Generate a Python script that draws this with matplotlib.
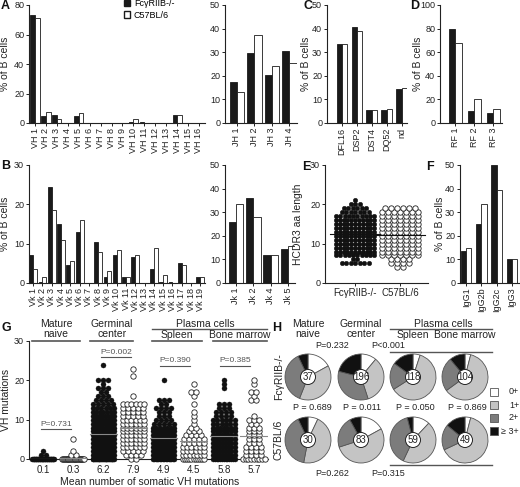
import numpy as np
import matplotlib
matplotlib.use('Agg')
import matplotlib.pyplot as plt
from matplotlib.lines import Line2D
from matplotlib.patches import Patch, Circle, Rectangle

plt.rcParams['font.family'] = ['Liberation Sans', 'DejaVu Sans']
plt.rcParams['font.size'] = 7

# ---- data ----
ko_name = 'FcγRIIB-/-'
wt_name = 'C57BL/6'

vh_labels = ['VH %d' % i for i in range(1, 17)]
vh_ko = [73.5, 4.5, 5.5, 0, 4.5, 0.3, 0.3, 0, 0, 1, 0.5, 0, 0, 5.5, 0, 0]
vh_wt = [71, 7.5, 2.5, 0, 7, 0.3, 0.3, 0, 0, 2.5, 0, 0, 0, 5.5, 0, 0]

jh_labels = ['JH 1', 'JH 2', 'JH 3', 'JH 4']
jh_ko = [17.5, 29.5, 20.5, 30.5]
jh_wt = [13, 37.5, 24, 25.5]

d_labels = ['DFL16', 'DSP2', 'DST4', 'DQ52', 'nd']
d_ko = [33.5, 40.5, 5.5, 5.5, 14.5]
d_wt = [33.5, 39, 5.5, 6, 15]

rf_labels = ['RF 1', 'RF 2', 'RF 3']
rf_ko = [80, 10, 8.5]
rf_wt = [67.5, 20, 11.5]

vk_labels = ['Vk %d' % i for i in range(1, 20)]
vk_ko = [7, 0.3, 24.5, 15, 4.5, 13, 0, 10.5, 1.5, 7, 1.5, 6.5, 0, 3.5, 0.3, 0.3, 5, 0, 1.5]
vk_wt = [3.5, 1.5, 18.5, 11, 5.5, 16, 0, 8, 3, 8.5, 1.5, 7, 0, 9, 2, 0, 4.5, 0, 1.5]

jk_labels = ['Jk 1', 'Jk 2', 'Jk 4', 'Jk 5']
jk_ko = [26, 36, 12, 14.5]
jk_wt = [33.5, 28, 12, 15.5]

igg_labels = ['IgG1', 'IgG2b', 'IgG2c', 'IgG3']
igg_ko = [13.5, 25, 50, 10]
igg_wt = [15, 33.5, 39.5, 10]

# HCDR3 length: counts per length
e_len = list(range(4, 22))
e_ko_cnt = [0, 7, 2, 10, 11, 11, 11, 11, 11, 11, 11, 11, 11, 10, 7, 6, 3, 1]
e_wt_cnt = [2, 4, 4, 7, 7, 7, 7, 7, 7, 7, 7, 7, 7, 7, 7, 6, 0, 0]

# VH mutations: values and counts per group
g_tick_labels = ['0.1', '0.3', '6.2', '7.9', '4.9', '4.5', '5.8', '5.7']
naive_ko_v = [0, 1, 2]
naive_ko_c = [34, 2, 1]
naive_wt_v = [0, 1, 2, 5]
naive_wt_c = [26, 2, 1, 1]
gc_ko_v = [0, 1, 2, 3, 4, 5, 6, 7, 8, 9, 10, 11, 12, 13, 14, 15, 16, 17, 18, 19, 20, 24]
gc_ko_c = [26, 14, 14, 15, 15, 14, 13, 12, 11, 10, 9, 8, 7, 6, 5, 4, 3, 2, 3, 1, 3, 1]
gc_wt_v = [0, 1, 2, 3, 4, 5, 6, 7, 8, 9, 10, 11, 12, 13, 14, 16, 21, 23]
gc_wt_c = [2, 4, 5, 6, 6, 6, 6, 6, 6, 6, 6, 5, 5, 5, 6, 1, 1, 1]
sp_ko_v = [0, 1, 2, 3, 4, 5, 6, 7, 8, 9, 10, 11, 12, 13, 14, 15, 20]
sp_ko_c = [16, 12, 12, 9, 10, 10, 9, 8, 7, 5, 4, 3, 3, 4, 2, 3, 1]
sp_wt_v = [0, 1, 2, 3, 4, 5, 6, 7, 8, 9, 10, 11, 12, 14, 16, 17, 19]
sp_wt_c = [11, 7, 6, 6, 5, 5, 4, 3, 2, 1, 1, 1, 1, 1, 1, 2, 1]
bm_ko_v = [0, 1, 2, 3, 4, 5, 6, 7, 8, 9, 10, 11, 12, 13, 14, 18, 19, 20]
bm_ko_c = [13, 8, 8, 8, 8, 8, 8, 7, 7, 6, 6, 4, 4, 3, 3, 1, 1, 1]
bm_wt_v = [0, 1, 2, 3, 4, 5, 6, 7, 8, 9, 10, 11, 15, 16, 17, 19, 20]
bm_wt_c = [9, 4, 4, 4, 3, 3, 3, 3, 3, 2, 3, 1, 2, 1, 2, 1, 1]

# pies: % of 0+, 1+, 2+, >=3+
pie_labels = ['0+', '1+', '2+', '≥ 3+']
pie_n_ko = [37, 196, 118, 104]
pie_n_wt = [30, 83, 59, 49]
pie_ko = [[17, 39, 37, 7], [11, 34, 34, 21], [5, 61, 19, 15], [4, 61, 24, 11]]
pie_wt = [[7, 46, 40, 7], [17, 53, 22, 8], [12, 45, 39, 4], [4, 64, 18, 14]]

# ---- figure ----
W, H = 520, 487
fig = plt.figure(figsize=(5.2, 4.87), dpi=100)
INK = '#222222'
TICK = 6.5
LAB = 7.5


def box(l, t, r, b):
    return fig.add_axes([l / W, 1 - b / H, (r - l) / W, (b - t) / H])


def ftext(x, y, s, **kw):
    kw.setdefault('ha', 'center')
    kw.setdefault('va', 'center')
    kw.setdefault('color', INK)
    kw.setdefault('fontsize', LAB)
    fig.text(x / W, 1 - y / H, s, **kw)


def fline(x0, x1, y, color='#555555', lw=1.0):
    fig.add_artist(Line2D([x0 / W, x1 / W], [1 - y / H, 1 - y / H], color=color, lw=lw))


def style(ax, ymax, ystep):
    for s in ['top', 'right']:
        ax.spines[s].set_visible(False)
    for s in ['left', 'bottom']:
        ax.spines[s].set_linewidth(0.8)
        ax.spines[s].set_color(INK)
    ax.set_ylim(0, ymax)
    ax.set_yticks(np.arange(0, ymax + 1, ystep))
    ax.tick_params(length=2.5, width=0.7, pad=1, labelsize=TICK, colors=INK)


def bars(ax, labels, ko, wt, width, xlim, ymax, ystep):
    x = np.arange(len(labels))
    ax.bar(x - width / 2, ko, width, color='#1a1a1a', edgecolor='#1a1a1a', lw=0.6)
    ax.bar(x + width / 2, wt, width, color='white', edgecolor='#1a1a1a', lw=0.6)
    ax.set_xticks(x)
    ax.set_xticklabels(labels, rotation=90)
    ax.set_xlim(*xlim)
    style(ax, ymax, ystep)


def swarm(ax, center, values, counts, step, maxw, filled, s, line_w, line_c):
    xs, ys = [], []
    for v, n in zip(values, counts):
        if n == 0:
            continue
        st = step if n == 1 else min(step, maxw / (n - 1))
        xs.extend(center + (np.arange(n) - (n - 1) / 2) * st)
        ys.extend([v] * n)
    if filled:
        ax.scatter(xs, ys, s=s, c='#111111', edgecolors='#111111', linewidths=0.3,
                   zorder=3, clip_on=False)
    else:
        ax.scatter(xs, ys, s=s, facecolors='white', edgecolors='#222222', linewidths=0.6,
                   zorder=3, clip_on=False)
    mean = np.dot(values, counts) / np.sum(counts)
    ax.plot([center - line_w, center + line_w], [mean, mean], color=line_c, lw=0.8, zorder=4)


# A
axA = box(29, 5, 205, 123)
bars(axA, vh_labels, vh_ko, vh_wt, 0.42, (-0.55, 15.55), 80, 20)
axJH = box(225, 5, 297, 123)
bars(axJH, jh_labels, jh_ko, jh_wt, 0.42, (-0.68, 3.43), 50, 10)
fig.legend(handles=[Patch(fc='#1a1a1a', ec='#1a1a1a'), Patch(fc='white', ec='#1a1a1a')],
           labels=[ko_name, wt_name], loc='upper left', bbox_to_anchor=(124 / W, 1 + 1 / H),
           frameon=False, fontsize=6.5, handlelength=0.7, handleheight=0.7,
           handletextpad=0.4, labelspacing=0.3, borderpad=0, borderaxespad=0)

# C
axC = box(327, 5, 407, 123)
bars(axC, d_labels, d_ko, d_wt, 0.36, (-1.0, 4.35), 50, 10)
# D
axD = box(440, 5, 502, 123)
bars(axD, rf_labels, rf_ko, rf_wt, 0.34, (-0.8, 2.45), 100, 20)

# B
axB = box(29, 165, 205, 283)
bars(axB, vk_labels, vk_ko, vk_wt, 0.42, (-0.45, 18.5), 30, 10)
axJK = box(225, 165, 295, 283)
bars(axJK, jk_labels, jk_ko, jk_wt, 0.42, (-0.63, 3.4), 50, 10)

# E
axE = box(325, 165, 428, 283)
style(axE, 30, 10)
swarm(axE, 0, e_len, e_ko_cnt, 0.1, 0.85, True, 10.5, 0.56, '#111111')
swarm(axE, 1, e_len, e_wt_cnt, 0.133, 0.8, False, 15, 0.56, '#111111')
axE.set_xlim(-0.67, 1.62)
axE.set_xticks([0, 1])
axE.set_xticklabels([ko_name, wt_name], fontsize=7)

# F
axF = box(460, 165, 519, 283)
bars(axF, igg_labels, igg_ko, igg_wt, 0.35, (-0.4, 3.45), 50, 10)

# G
axG = box(29, 341, 268, 459)
style(axG, 30, 10)
g_groups = [(naive_ko_v, naive_ko_c, True), (naive_wt_v, naive_wt_c, False),
            (gc_ko_v, gc_ko_c, True), (gc_wt_v, gc_wt_c, False),
            (sp_ko_v, sp_ko_c, True), (sp_wt_v, sp_wt_c, False),
            (bm_ko_v, bm_ko_c, True), (bm_wt_v, bm_wt_c, False)]
for i, (v, c, filled) in enumerate(g_groups):
    swarm(axG, i + 1, v, c, 0.166, 0.72, filled, 13 if filled else 15, 0.45, '#888888')
axG.set_xlim(0.53, 8.47)
axG.set_xticks(range(1, 9))
axG.set_xticklabels(g_tick_labels, fontsize=7)
axG.tick_params(axis='x', length=0, pad=4)

# H
axH = box(270, 320, 520, 487)
pie_colors = ['white', '#c4c4c4', '#7c7c7c', '#111111']
pie_x = [308, 361, 413, 465]
pie_y = [377, 440]
for row, (pies, ns) in enumerate([(pie_ko, pie_n_ko), (pie_wt, pie_n_wt)]):
    for j, (p, n) in enumerate(zip(pies, ns)):
        cx, cy = pie_x[j], 487 - pie_y[row]
        axH.pie(p, colors=pie_colors, startangle=90, counterclock=False, center=(cx, cy),
                radius=23, wedgeprops=dict(edgecolor='#555555', linewidth=0.6), frame=True)
        axH.add_patch(Circle((cx, cy), 7.5, fc='white', ec='#222222', lw=0.7, zorder=5))
        axH.text(cx, cy, str(n), ha='center', va='center', fontsize=7, color=INK, zorder=6)
# legend boxes drawn by hand (text is right aligned in the original)
for k, (c, lab) in enumerate(zip(pie_colors, pie_labels)):
    ly = 487 - (392 + 13 * k)
    axH.add_patch(Rectangle((490, ly - 4), 8, 8, fc=c, ec='#555555', lw=0.6))
    axH.text(519, ly, lab, ha='right', va='center', fontsize=6.5, color=INK)
axH.set_xlim(270, 520)
axH.set_ylim(0, 167)
axH.axis('off')

# y labels
ftext(5, 64, '% of B cells', rotation=90)
ftext(5, 224, '% of B cells', rotation=90)
ftext(306, 64, '% of B cells', rotation=90)
ftext(418, 64, '% of B cells', rotation=90)
ftext(298, 224, 'HCDR3 aa length', rotation=90)
ftext(440, 224, '% of B cells', rotation=90)
ftext(6, 400, 'VH mutations', rotation=90)
ftext(150, 482, 'Mean number of somatic VH mutations')

# panel letters
for letter, x, y in [('A', 1, 0), ('B', 1, 160), ('C', 303, 0), ('D', 410, 0),
                     ('E', 302, 161), ('F', 426, 161), ('G', 2, 322), ('H', 272, 322)]:
    ftext(x, y, letter, ha='left', va='top', fontsize=9, fontweight='bold', color='#111111')

# G headers
ftext(56, 329, 'Mature\nnaive', linespacing=0.95)
ftext(112, 329, 'Germinal\ncenter', linespacing=0.95)
ftext(205, 324, 'Plasma cells')
fline(152, 267, 329)
ftext(177, 335, 'Spleen')
ftext(240, 335, 'Bone marrow')
for x0, x1 in [(32, 80), (90, 133), (152, 202), (213, 267)]:
    fline(x0, x1, 341, lw=1.2)
for txt, x, y in [('P=0.731', 56, 424), ('P=0.002', 116, 352), ('P=0.390', 175, 361),
                  ('P=0.385', 235, 361)]:
    ftext(x, y, txt, color='#555555', fontsize=6)
    fline(x - 15, x + 15, y + 5, lw=0.8)

# H headers
ftext(308, 329, 'Mature\nnaive', linespacing=0.95)
ftext(361, 329, 'Germinal\ncenter', linespacing=0.95)
ftext(443, 324, 'Plasma cells')
fline(390, 492, 329)
ftext(413, 335, 'Spleen')
ftext(465, 335, 'Bone marrow')
ftext(332, 345, 'P=0.232', fontsize=6.5)
ftext(388, 345, 'P<0.001', fontsize=6.5)
fline(390, 492, 352)
for txt, x in [('P = 0.689', 312), ('P = 0.011', 362), ('P = 0.050', 415), ('P = 0.869', 467)]:
    ftext(x, 408, txt, fontsize=6.5)
fline(390, 492, 465)
ftext(332, 474, 'P=0.262', fontsize=6.5)
ftext(388, 474, 'P=0.315', fontsize=6.5)
ftext(279, 377, ko_name, rotation=90)
ftext(279, 440, wt_name, rotation=90)

fig.savefig('out.png', dpi=100)
